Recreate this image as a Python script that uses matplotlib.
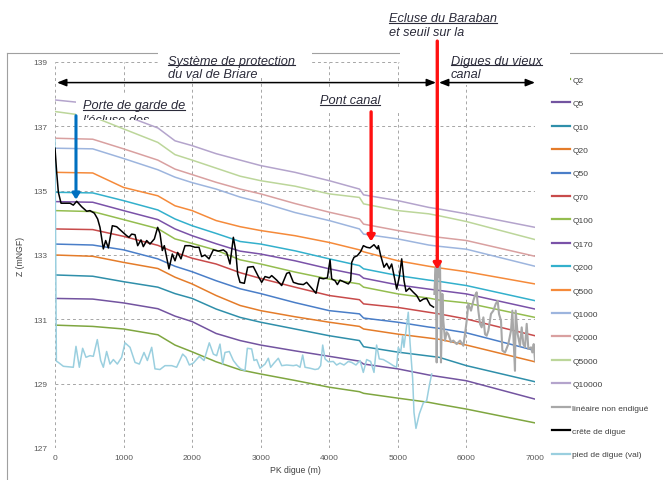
import matplotlib
matplotlib.use('Agg')
import matplotlib.pyplot as plt
from matplotlib.lines import Line2D
from matplotlib.transforms import Bbox, TransformedBbox
from matplotlib.patches import Rectangle

plt.rcParams['font.family'] = ['Liberation Sans', 'DejaVu Sans']

W, H = 663, 481


def fx(px):
    return px / W


def fy(py):
    return 1 - py / H


# --- water lines (PK digue in m, Z in mNGF) ---
pk = [0, 550, 1000, 1500, 1750, 2000, 2350, 2700, 3000, 3500, 4000,
      4440, 4500, 5000, 5450, 5600, 6000, 7000]

q_names = ['Q2', 'Q5', 'Q10', 'Q20', 'Q50', 'Q70', 'Q100', 'Q170', 'Q200',
           'Q500', 'Q1000', 'Q2000', 'Q5000', 'Q10000']
q_colors = ['#7FA640', '#7354A0', '#2F8FAA', '#E47C2A', '#4A7EC8', '#C84B4B',
            '#94BD4F', '#7A52A8', '#33B0CC', '#F58A3A', '#9DB5DE', '#D9A0A0',
            '#BCD69A', '#B4A4CC']

q2 = [130.82, 130.78, 130.70, 130.52, 130.20, 129.99, 129.68, 129.43, 129.30,
      129.10, 128.89, 128.75, 128.70, 128.55, 128.42, 128.36, 128.21, 127.78]
q5 = [131.65, 131.63, 131.51, 131.33, 131.10, 130.93, 130.56, 130.34, 130.20,
      130.02, 129.85, 129.70, 129.61, 129.46, 129.27, 129.22, 129.09, 128.52]
q10 = [132.38, 132.34, 132.17, 132.00, 131.80, 131.65, 131.32, 131.06, 130.91,
       130.70, 130.49, 130.34, 130.15, 129.98, 129.86, 129.82, 129.56, 129.06]
q20 = [133.00, 132.96, 132.77, 132.58, 132.31, 132.10, 131.74, 131.43, 131.27,
       131.08, 130.91, 130.78, 130.70, 130.54, 130.42, 130.38, 130.20, 129.68]
q50 = [133.34, 133.31, 133.16, 132.88, 132.65, 132.48, 132.20, 131.95, 131.80,
       131.52, 131.27, 131.17, 131.04, 130.91, 130.76, 130.72, 130.58, 130.03]
q70 = [133.81, 133.79, 133.58, 133.30, 133.08, 132.90, 132.72, 132.45, 132.27,
       132.00, 131.74, 131.61, 131.48, 131.37, 131.22, 131.17, 131.01, 130.49]
q100 = [134.38, 134.35, 134.10, 133.82, 133.50, 133.36, 133.15, 132.85, 132.72,
        132.47, 132.25, 132.10, 132.00, 131.79, 131.66, 131.60, 131.51, 131.06]
q170 = [134.66, 134.64, 134.38, 134.10, 133.81, 133.60, 133.35, 133.12, 133.03,
        132.82, 132.57, 132.38, 132.28, 132.07, 131.94, 131.90, 131.79, 131.32]
q200 = [134.95, 134.93, 134.69, 134.40, 134.12, 133.91, 133.67, 133.42, 133.34,
        133.13, 132.88, 132.67, 132.57, 132.36, 132.22, 132.18, 132.05, 131.58]
q500 = [135.57, 135.55, 135.10, 134.84, 134.53, 134.38, 134.07, 133.88, 133.76,
        133.60, 133.39, 133.16, 133.10, 132.82, 132.65, 132.60, 132.48, 132.10]
q1000 = [136.32, 136.30, 136.00, 135.65, 135.42, 135.25, 135.05, 134.80, 134.64,
         134.32, 134.07, 133.81, 133.65, 133.50, 133.31, 133.27, 133.18, 132.65]
q2000 = [136.63, 136.60, 136.30, 135.95, 135.67, 135.50, 135.26, 135.05, 134.90,
         134.60, 134.33, 134.12, 133.96, 133.76, 133.60, 133.55, 133.45, 132.96]
q5000 = [137.46, 137.30, 136.92, 136.50, 136.12, 135.95, 135.70, 135.45, 135.31,
         135.14, 134.90, 134.79, 134.59, 134.38, 134.28, 134.22, 134.04, 133.48]
q10000 = [137.82, 137.70, 137.35, 136.95, 136.55, 136.40, 136.15, 135.95, 135.78,
          135.57, 135.31, 135.05, 134.87, 134.69, 134.48, 134.43, 134.28, 133.86]
q_values = [q2, q5, q10, q20, q50, q70, q100, q170, q200, q500, q1000, q2000,
            q5000, q10000]

# crête de digue
crete_pk = [0, 24, 49, 88, 219, 267, 316, 389, 462, 510,
            574, 622, 656, 705, 739, 778, 836, 899, 972, 1045,
            1079, 1118, 1167, 1206, 1254, 1288, 1337, 1385, 1449, 1497,
            1531, 1565, 1594, 1662, 1711, 1750, 1789, 1837, 1896, 1969,
            2042, 2100, 2139, 2187, 2246, 2309, 2382, 2455, 2503, 2552,
            2601, 2635, 2664, 2698, 2761, 2810, 2892, 2966, 3014, 3063,
            3126, 3160, 3233, 3306, 3379, 3418, 3476, 3549, 3622, 3670,
            3743, 3806, 3855, 3913, 3972, 4011, 4035, 4084, 4118, 4156,
            4229, 4278, 4312, 4327, 4361, 4409, 4458, 4497, 4545, 4594,
            4652, 4701, 4716, 4750, 4798, 4837, 4876, 4910, 4944, 4983,
            5022, 5056, 5090, 5119, 5168, 5226, 5275, 5323, 5372, 5420,
            5470, 5520]
crete_z = [136.32, 135.58, 134.95, 134.61, 134.61, 134.55, 134.67, 134.50, 134.36, 134.38,
           134.30, 134.12, 133.86, 133.19, 133.45, 133.22, 133.91, 133.88, 133.74, 133.60,
           133.55, 133.65, 133.63, 133.29, 133.47, 133.26, 133.45, 133.34, 133.50, 133.86,
           133.67, 133.14, 133.29, 132.57, 133.03, 132.82, 133.08, 132.88, 133.29, 133.29,
           133.24, 133.24, 132.95, 133.00, 132.88, 133.16, 133.12, 133.16, 133.08, 132.72,
           133.55, 133.13, 132.41, 132.15, 132.12, 132.62, 132.64, 132.33, 132.15, 132.33,
           132.29, 132.36, 132.22, 132.05, 132.43, 132.46, 132.15, 132.10, 132.08, 132.15,
           131.97, 131.81, 132.29, 132.26, 132.29, 132.85, 132.26, 132.20, 132.08, 132.22,
           132.15, 132.10, 132.20, 132.77, 132.93, 132.98, 133.11, 133.29, 133.24, 133.22,
           133.32, 133.19, 133.29, 132.98, 132.62, 132.74, 132.57, 132.72, 132.36, 131.94,
           132.33, 132.88, 132.20, 131.87, 131.97, 131.84, 131.74, 131.56, 131.63, 131.65,
           131.45, 131.38]

# pied de digue (val)
pied_pk = [0, 20, 49, 122, 267, 306, 355, 403, 452, 510,
           559, 617, 666, 705, 753, 802, 851, 909, 972, 1021,
           1094, 1167, 1230, 1298, 1347, 1410, 1458, 1531, 1604, 1701,
           1774, 1862, 1910, 1959, 2017, 2105, 2173, 2250, 2309, 2357,
           2406, 2445, 2479, 2542, 2601, 2659, 2707, 2771, 2805, 2868,
           2902, 2941, 2990, 3063, 3111, 3145, 3194, 3257, 3306, 3379,
           3476, 3524, 3573, 3612, 3646, 3719, 3792, 3840, 3874, 3904,
           3938, 3986, 4059, 4107, 4156, 4214, 4277, 4326, 4389, 4448,
           4496, 4545, 4603, 4652, 4690, 4729, 4788, 4861, 4934, 4982,
           5006, 5041, 5070, 5089, 5152, 5177, 5216, 5235, 5264, 5313,
           5371, 5420, 5459, 5493]
pied_z = [136.60, 129.70, 129.66, 129.54, 129.51, 130.16, 129.51, 130.10, 129.82, 129.87,
          129.85, 130.37, 129.72, 129.51, 130.00, 129.61, 129.75, 129.61, 129.82, 130.27,
          130.13, 129.66, 129.61, 129.97, 129.72, 130.13, 129.46, 129.44, 129.56, 129.56,
          129.51, 129.92, 129.82, 129.58, 129.64, 129.85, 129.72, 130.27, 129.92, 129.87,
          130.23, 129.61, 129.97, 130.00, 129.72, 129.56, 129.46, 129.41, 130.10, 130.08,
          129.72, 129.75, 129.48, 129.61, 129.79, 129.51, 129.64, 129.79, 129.56, 129.58,
          129.56, 129.58, 129.51, 129.89, 129.51, 129.48, 129.44, 129.46, 129.56, 130.20,
          129.77, 129.68, 129.69, 129.58, 129.64, 129.58, 129.69, 129.66, 129.58, 129.72,
          129.35, 129.75, 129.69, 129.35, 130.20, 129.77, 129.75, 129.66, 129.56, 129.51,
          130.13, 129.97, 130.49, 130.13, 131.22, 130.29, 129.15, 128.11, 127.61, 128.06,
          128.40, 128.47, 128.94, 129.30]

# linéaire non endigué
lin_pk = [5532, 5552, 5566, 5581, 5600, 5615, 5629, 5649, 5663, 5688,
          5712, 5736, 5775, 5809, 5858, 5906, 5955, 5979, 6004, 6028,
          6067, 6101, 6125, 6149, 6174, 6198, 6222, 6247, 6271, 6295,
          6320, 6358, 6393, 6427, 6456, 6475, 6504, 6524, 6563, 6611,
          6650, 6670, 6684, 6708, 6718, 6747, 6781, 6806, 6830, 6854,
          6879, 6903, 6942, 6961, 6981, 7000]
lin_z = [131.79, 132.62, 129.66, 132.67, 132.31, 132.77, 129.66, 131.79, 130.96, 130.34,
         130.60, 130.54, 130.29, 130.34, 130.23, 130.34, 130.18, 130.54, 130.96, 131.48,
         131.27, 131.58, 131.74, 131.84, 131.27, 130.86, 130.75, 131.06, 130.54, 130.49,
         130.65, 131.17, 131.27, 131.48, 131.58, 131.17, 130.96, 130.03, 129.97, 130.23,
         130.65, 131.27, 130.54, 129.40, 131.27, 130.54, 130.18, 130.75, 130.23, 130.13,
         130.86, 130.08, 130.13, 129.97, 130.23, 129.72]

note_col = '#2B2B3A'

fig = plt.figure(figsize=(W / 100, H / 100), dpi=100)
ax = fig.add_axes([fx(55), fy(449), 480 / W, 386 / H])

for name, col, vals in zip(q_names, q_colors, q_values):
    ax.plot(pk, vals, color=col, lw=1.1, zorder=2)
ax.plot(pied_pk, pied_z, color='#9ACFDF', lw=1.1, zorder=3)
ax.plot(lin_pk, lin_z, color='#A8A8A8', lw=1.5, zorder=3)
ax.plot(crete_pk, crete_z, color='black', lw=1.1, zorder=4)

ax.set_xlim(0, 7000)
ax.set_ylim(127, 139)
ax.set_xticks(range(0, 7001, 1000))
ax.set_yticks(range(127, 140, 2))
ax.grid(True, ls=(0, (3, 3)), color='#A6A6A6', lw=0.7)
ax.set_axisbelow(True)
for s in ax.spines.values():
    s.set_visible(False)
ax.tick_params(length=0, labelsize=6, labelcolor='#595959')
ax.tick_params(axis='y', pad=5.5)
ax.tick_params(axis='x', pad=4)
ax.set_xlabel('PK digue (m)', fontsize=6.2, color='#404040')
ax.xaxis.set_label_coords(0.5, -0.045)
ax.set_ylabel('Z (mNGF)', fontsize=6.2, color='#404040')
ax.yaxis.set_label_coords(-0.062, 0.5)

# legend
handles = [Line2D([], [], color=c, lw=1.6) for c in q_colors]
handles += [Line2D([], [], color='#A8A8A8', lw=1.6),
            Line2D([], [], color='black', lw=1.6),
            Line2D([], [], color='#9ACFDF', lw=1.6)]
labels = q_names + ['linéaire non endigué', 'crête de digue', 'pied de digue (val)']
leg = ax.legend(handles, labels, loc='upper left', bbox_to_anchor=(fx(552), fy(77)),
                bbox_transform=fig.transFigure, frameon=False, fontsize=6,
                handlelength=2.2, handletextpad=0.25, labelspacing=1.87,
                borderpad=0, borderaxespad=0)
leg.set_zorder(5)
for t in leg.get_texts():
    t.set_color('#404040')

# chart border
fig.add_artist(Line2D([fx(7), fx(663)], [fy(54), fy(54)], color='#A0A0A0', lw=0.8, zorder=-1))
fig.add_artist(Line2D([fx(7), fx(7)], [fy(54), fy(481)], color='#A0A0A0', lw=0.8, zorder=-1))

# white boxes behind the notes
for x0, y0, x1, y1 in [(158, 50, 312, 77), (76, 94, 192, 121), (316, 88, 402, 114),
                       (386, 6, 500, 44), (400, 50, 570, 86)]:
    ax.add_patch(Rectangle((fx(x0), fy(y1)), fx(x1) - fx(x0), fy(y0) - fy(y1),
                           transform=fig.transFigure, facecolor='white',
                           edgecolor='none', clip_on=False, zorder=5.5))

# arrows
def arrow(x, y_from, y_to, color, lw, style):
    ax.annotate('', xy=(x[1], y_to), xytext=(x[0], y_from),
                arrowprops=dict(arrowstyle=style, color=color, lw=lw,
                                shrinkA=0, shrinkB=0, mutation_scale=10),
                annotation_clip=False, zorder=6)


arrow((30, 5556), 138.36, 138.36, 'black', 1.1, '<|-|>,head_length=0.55,head_width=0.22')
arrow((5600, 7000), 138.36, 138.36, 'black', 1.1, '<|-|>,head_length=0.55,head_width=0.22')
arrow((4610, 4610), 137.45, 133.42, '#FF1010', 2.4, '-|>,head_length=0.35,head_width=0.22')
arrow((5575, 5575), 139.65, 132.55, '#FF1010', 2.4, '-|>,head_length=0.35,head_width=0.22')
arrow((306, 306), 137.33, 134.72, '#0070C0', 2.2, '-|>,head_length=0.35,head_width=0.22')

# notes
underlined = []


def note(px, py, text, underline=False, clip=None):
    t = ax.text(fx(px), fy(py), text, transform=fig.transFigure, fontsize=9.2,
                style='italic', color=note_col, ha='left', va='baseline',
                zorder=7, clip_on=False)
    if clip is not None:
        x0, y0, x1, y1 = clip
        t.set_clip_box(TransformedBbox(Bbox.from_extents(fx(x0), fy(y1), fx(x1), fy(y0)),
                                       fig.transFigure))
        t.set_clip_on(True)
    if underline:
        underlined.append((t, py))
    return t


note(168, 64.5, 'Système de protection', True)
note(168, 78.5, 'du val de Briare')
note(83, 109.5, 'Porte de garde de', True)
note(83, 124, "l'écluse des", clip=(76, 94, 192, 120.5))
note(320, 104.5, 'Pont canal', True)
note(389, 22, 'Ecluse du Baraban', True)
note(389, 36, 'et seuil sur la')
note(451, 64.5, 'Digues du vieux', True)
note(451, 78.5, 'canal')

fig.canvas.draw()
for t, py in underlined:
    bb = t.get_window_extent()
    ax.add_line(Line2D([fx(bb.x0), fx(bb.x1)], [fy(py + 1.6)] * 2,
                       transform=fig.transFigure, color=note_col, lw=0.8,
                       clip_on=False, zorder=7))

fig.savefig('out.png', dpi=100)
